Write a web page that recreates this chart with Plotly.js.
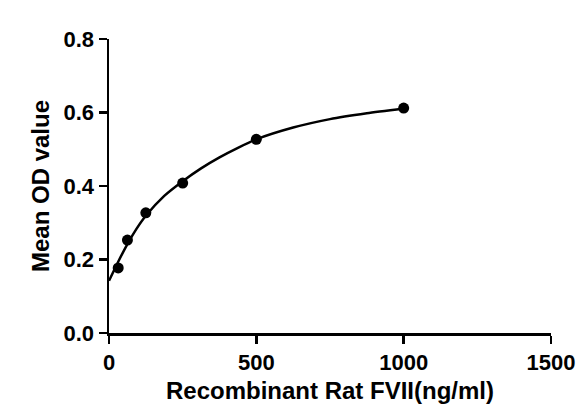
<!DOCTYPE html>
<html>
<head>
<meta charset="utf-8">
<script src="https://cdn.plot.ly/plotly-3.0.1.min.js"></script>
<style>html,body{margin:0;padding:0;background:#fff;}#chart{width:577px;height:409px;}</style>
</head>
<body>
<div id="chart"></div>
<script>
// Measured standard points
var concentration = [31.25, 62.5, 125, 250, 500, 1000];
var meanOD = [0.177, 0.253, 0.327, 0.408, 0.527, 0.612];

// Fitted curve
var curveX = [0, 31.25, 62.5, 93.75, 125, 187.5, 250, 312.5, 375, 437.5, 500, 625, 750, 875, 1000];
var curveY = [0.142, 0.194, 0.242, 0.284, 0.319, 0.373, 0.413, 0.448, 0.478, 0.504, 0.527, 0.559, 0.582, 0.598, 0.611];

// Tick labels
var xTicks = [0, 500, 1000, 1500];
var yTicks = [0.0, 0.2, 0.4, 0.6, 0.8];
var yTickText = ["0.0", "0.2", "0.4", "0.6", "0.8"];

var FONT = "Liberation Sans, Arial, sans-serif";

var traces = [
  {
    x: curveX, y: curveY, type: "scatter", mode: "lines",
    line: {color: "#000", width: 2.5, shape: "spline", smoothing: 0.6},
    hoverinfo: "skip", showlegend: false
  },
  {
    x: concentration, y: meanOD, type: "scatter", mode: "markers",
    marker: {color: "#000", size: 11, symbol: "circle"},
    showlegend: false
  }
];

var layout = {
  width: 577, height: 409,
  margin: {l: 109, r: 26, t: 39, b: 76},
  paper_bgcolor: "#fff", plot_bgcolor: "#fff",
  font: {family: FONT, color: "#000"},
  xaxis: {
    range: [0, 1500], tickvals: xTicks, ticktext: xTicks.map(String),
    showgrid: false, zeroline: false,
    showline: true, linecolor: "#000", linewidth: 2.5,
    ticks: "outside", ticklen: 8, tickwidth: 2.5, tickcolor: "#000",
    tickfont: {family: FONT, size: 22, weight: "bold", color: "#000"},
    title: {text: "<b>Recombinant Rat FVII(ng/ml)</b>", font: {family: FONT, size: 24, color: "#000"}, standoff: 9},
    automargin: false
  },
  yaxis: {
    range: [0, 0.8], tickvals: yTicks, ticktext: yTickText,
    showgrid: false, zeroline: false,
    showline: true, linecolor: "#000", linewidth: 2.5,
    ticks: "outside", ticklen: 8, tickwidth: 2.5, tickcolor: "#000",
    tickfont: {family: FONT, size: 22, weight: "bold", color: "#000"},
    title: {text: "<b>Mean OD value</b>", font: {family: FONT, size: 24, color: "#000"}, standoff: 7},
    automargin: false
  }
};

Plotly.newPlot("chart", traces, layout, {staticPlot: true, displayModeBar: false});
</script>
</body>
</html>
